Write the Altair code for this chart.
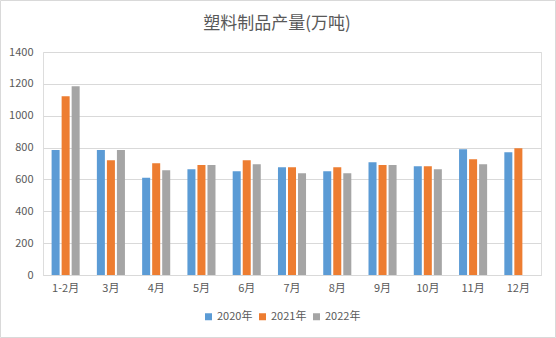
import altair as alt
import pandas as pd

months = ["1-2月", "3月", "4月", "5月", "6月", "7月", "8月", "9月", "10月", "11月", "12月"]
years = ["2020年", "2021年", "2022年"]
v2020 = [784, 784, 610, 664, 652, 677, 652, 708, 683, 790, 771]
v2021 = [1122, 721, 702, 690, 721, 677, 677, 690, 683, 727, 796]
v2022 = [1185, 784, 658, 690, 696, 639, 639, 690, 664, 696, None]
colors = ["#5B9BD5", "#ED7D31", "#A5A5A5"]
title_text = "塑料制品产量(万吨)"

rows = []
for series, name in zip([v2020, v2021, v2022], years):
    for m, v in zip(months, series):
        if v is not None:
            rows.append({"月份": m, "年份": name, "产量": v})
df = pd.DataFrame(rows)

FONT = "Noto Sans CJK SC"
W, H = 498, 223

bars = alt.Chart(df).mark_bar().encode(
    x=alt.X("月份:N", sort=months,
            scale=alt.Scale(paddingInner=0.38, paddingOuter=0.19),
            axis=alt.Axis(title=None, labelAngle=0, ticks=False, domainColor="#D9D9D9",
                          labelColor="#595959", labelFontSize=11, labelFont=FONT,
                          labelPadding=7, grid=False)),
    xOffset=alt.XOffset("年份:N", sort=years, scale=alt.Scale(paddingInner=0.2, paddingOuter=0)),
    y=alt.Y("产量:Q", scale=alt.Scale(domain=[0, 1400]),
            axis=alt.Axis(title=None, values=list(range(0, 1401, 200)), format="d",
                          ticks=False, domain=False,
                          gridColor="#D9D9D9", labelColor="#595959", labelFontSize=11,
                          labelFont=FONT, labelPadding=10)),
    color=alt.Color("年份:N", sort=years, scale=alt.Scale(domain=years, range=colors),
                    legend=alt.Legend(title=None, orient="none", direction="horizontal",
                                      legendX=160, legendY=259, symbolType="square",
                                      symbolSize=49, symbolStrokeWidth=0, labelFontSize=11,
                                      labelFont=FONT, labelColor="#595959", columnPadding=4,
                                      labelOffset=3)),
)

frame = alt.Chart(pd.DataFrame({"k": [0]})).mark_rect(
    fill=None, stroke="#D9D9D9", strokeWidth=1
).encode(
    x=alt.value(-42.5), x2=alt.value(512.5), y=alt.value(-51.5), y2=alt.value(285.5)
)

title = alt.Chart(pd.DataFrame({"t": [title_text]})).mark_text(
    font=FONT, fontSize=17, color="#595959", align="center", baseline="alphabetic"
).encode(
    text="t:N", x=alt.value(234), y=alt.value(-23)
)

chart = alt.layer(bars, frame, title).properties(
    width=W, height=H,
    autosize=alt.AutoSizeParams(type="none"),
    padding={"left": 43, "top": 52, "right": 15, "bottom": 63},
).configure_view(stroke=None).configure(background="white")

chart.save("out.html", embed_options={"renderer": "svg", "actions": False})
